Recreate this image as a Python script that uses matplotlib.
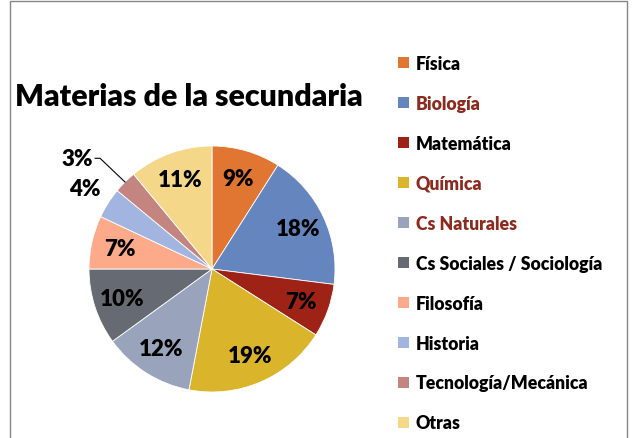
import numpy as np
import matplotlib.pyplot as plt
from matplotlib.patches import Rectangle, Patch

plt.rcParams['font.family'] = ['Lato', 'DejaVu Sans']
PESO = 'heavy'

# datos
materias = ['Física', 'Biología', 'Matemática', 'Química', 'Cs Naturales',
            'Cs Sociales / Sociología', 'Filosofía', 'Historia',
            'Tecnología/Mecánica', 'Otras']
porcentajes = [9, 18, 7, 19, 12, 10, 7, 4, 3, 11]
colores = ['#E07631', '#6585BE', '#9E2316', '#DAB42B', '#99A3BC',
           '#666B73', '#FCAA8A', '#A2B5E0', '#C4847F', '#F5D78A']
color_texto = ['black', '#8B2A1E', 'black', '#8B2A1E', '#8B2A1E',
               'black', 'black', 'black', 'black', 'black']

W, H = 632, 439
fig = plt.figure(figsize=(W / 100, H / 100), dpi=100)

# marco del gráfico
fig.add_artist(Rectangle((10 / W, -0.05), 617 / W, 1.05 - 2 / H,
                         transform=fig.transFigure, fill=False,
                         edgecolor='#868686', linewidth=1))

# ejes del pastel (centro ~ (212, 270) px, radio ~123 px)
cx, cy, r = 212, 270, 123
ax = fig.add_axes([(cx - r) / W, (H - cy - r) / H, 2 * r / W, 2 * r / H])

wedges, _ = ax.pie(porcentajes, colors=colores, startangle=90,
                   counterclock=False, radius=1,
                   wedgeprops=dict(edgecolor='white', linewidth=0.6))
ax.set_xlim(-1, 1)
ax.set_ylim(-1, 1)
ax.axis('off')

# etiquetas de porcentaje
total = sum(porcentajes)
acum = 0
for i, v in enumerate(porcentajes):
    mid = np.deg2rad(90 - 360 * (acum + v / 2) / total)
    acum += v
    if materias[i] == 'Historia':
        d = 1.22
    elif materias[i] == 'Tecnología/Mecánica':
        d = None
    else:
        d = 0.77
    if d is not None:
        ax.text(d * np.cos(mid), d * np.sin(mid), f'{v}%', ha='center',
                va='center', fontsize=16, fontweight=PESO)
    else:
        ex, ey = np.cos(mid), np.sin(mid)
        tx, ty = -0.95, 0.9
        ax.plot([ex, tx + 0.04, tx], [ey, ty, ty], color='black', lw=0.8,
                clip_on=False)
        ax.text(tx - 0.02, ty, f'{v}%', ha='right', va='center',
                fontsize=16, fontweight=PESO)

# título
fig.text(15 / W, 1 - 97 / H, 'Materias de la secundaria', ha='left',
         va='center', fontsize=21.8, fontweight=PESO)

# leyenda
handles = [Patch(facecolor=c, edgecolor='none') for c in colores]
leg = fig.legend(handles, materias, loc='upper left',
                 bbox_to_anchor=(398 / W, 1 - 56 / H), frameon=False,
                 fontsize=12.7, handlelength=0.6, handleheight=0.6,
                 handletextpad=0.4, labelspacing=1.30, borderpad=0,
                 borderaxespad=0, labelcolor=color_texto)
for t in leg.get_texts():
    t.set_fontweight(PESO)

fig.savefig('out.png', dpi=100)
